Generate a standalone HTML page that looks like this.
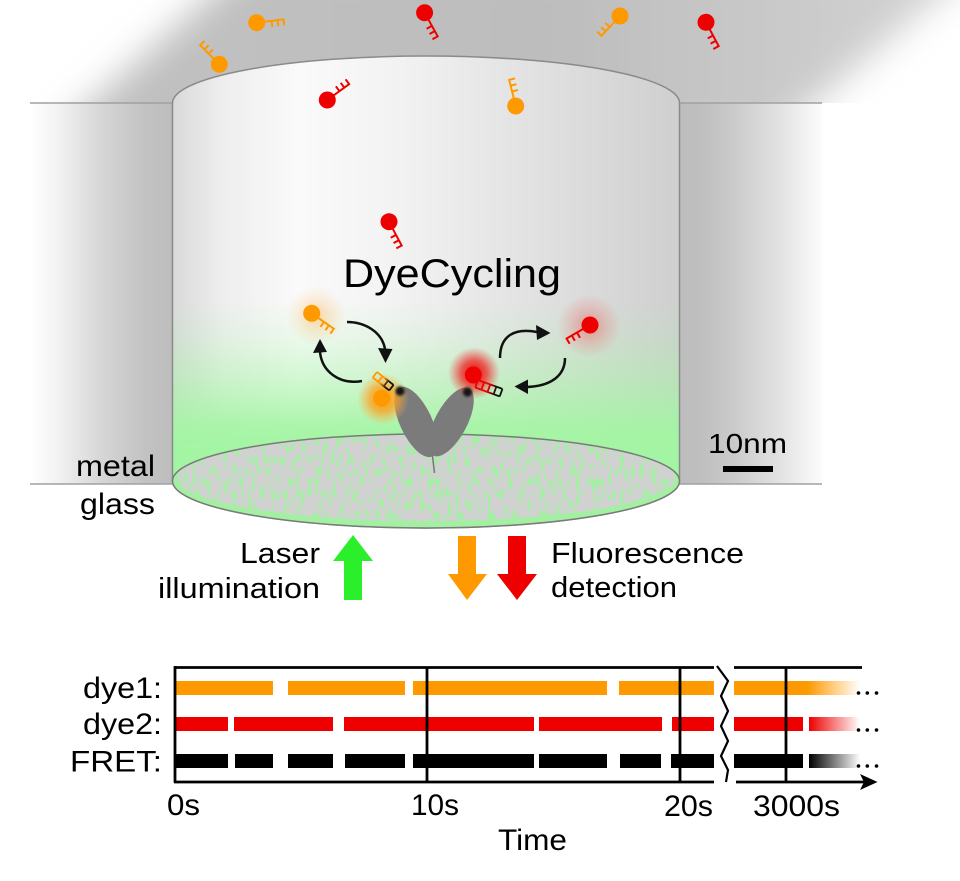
<!DOCTYPE html>
<html><head><meta charset="utf-8"><style>html,body{margin:0;padding:0;background:#fff}svg{display:block}</style></head>
<body>
<svg width="960" height="881" viewBox="0 0 960 881" xmlns="http://www.w3.org/2000/svg" xmlns:xlink="http://www.w3.org/1999/xlink" font-family="'Liberation Sans', Arial, sans-serif">
<defs>
  <filter id="blur25" x="-30%" y="-80%" width="160%" height="260%"><feGaussianBlur stdDeviation="18"/></filter>
  <filter id="blur2" x="-50%" y="-50%" width="200%" height="200%"><feGaussianBlur stdDeviation="1.2"/></filter>
  <clipPath id="topclip"><rect x="0" y="0" width="960" height="103"/></clipPath>
  <linearGradient id="wedgeG" gradientUnits="userSpaceOnUse" x1="200" y1="0" x2="900" y2="0">
    <stop offset="0" stop-color="#c0c0c0"/><stop offset="0.5" stop-color="#bdbdbd"/><stop offset="1" stop-color="#d0d0d0"/>
  </linearGradient>
  <linearGradient id="lblock" gradientUnits="userSpaceOnUse" x1="30" y1="0" x2="172" y2="0">
    <stop offset="0" stop-color="#ffffff"/><stop offset="0.2" stop-color="#f2f2f2"/>
    <stop offset="0.5" stop-color="#d6d6d6"/><stop offset="0.8" stop-color="#c3c3c3"/><stop offset="1" stop-color="#bdbdbd"/>
  </linearGradient>
  <linearGradient id="rblock" gradientUnits="userSpaceOnUse" x1="680" y1="0" x2="822" y2="0">
    <stop offset="0" stop-color="#bdbdbd"/><stop offset="0.15" stop-color="#bfbfbf"/>
    <stop offset="0.4" stop-color="#cccccc"/><stop offset="0.7" stop-color="#e2e2e2"/><stop offset="1" stop-color="#fcfcfc"/>
  </linearGradient>
  <linearGradient id="cylH" gradientUnits="userSpaceOnUse" x1="172" y1="0" x2="680" y2="0">
    <stop offset="0" stop-color="#d9d9d9"/><stop offset="0.1" stop-color="#eeeeee"/>
    <stop offset="0.25" stop-color="#fafafa"/><stop offset="0.45" stop-color="#f2f2f2"/>
    <stop offset="0.7" stop-color="#e2e2e2"/><stop offset="1" stop-color="#cfcfcf"/>
  </linearGradient>
  <linearGradient id="greenV" gradientUnits="userSpaceOnUse" x1="0" y1="300" x2="0" y2="450">
    <stop offset="0" stop-color="#a3f5a3" stop-opacity="0"/><stop offset="0.3" stop-color="#a3f5a3" stop-opacity="0.2"/>
    <stop offset="0.6" stop-color="#a3f5a3" stop-opacity="0.55"/><stop offset="0.85" stop-color="#a3f5a3" stop-opacity="0.92"/>
    <stop offset="1" stop-color="#a3f5a3" stop-opacity="1"/>
  </linearGradient>
  <filter id="speck" x="0" y="0" width="1" height="1" color-interpolation-filters="sRGB">
    <feTurbulence type="fractalNoise" baseFrequency="0.25 0.09" numOctaves="2" seed="5" result="t"/>
    <feColorMatrix in="t" type="matrix" values="0 0 0 0 0.82  0 0 0 0 0.82  0 0 0 0 0.82  0 0 0 10 -3.6" result="m"/>
    <feComposite in="m" in2="SourceGraphic" operator="in"/>
  </filter>
  <radialGradient id="gOfree"><stop offset="0" stop-color="#ffb050" stop-opacity="0.5"/><stop offset="0.6" stop-color="#ffc070" stop-opacity="0.2"/><stop offset="1" stop-color="#ffc070" stop-opacity="0"/></radialGradient>
  <radialGradient id="gRfree"><stop offset="0" stop-color="#f04848" stop-opacity="0.5"/><stop offset="0.6" stop-color="#f06060" stop-opacity="0.2"/><stop offset="1" stop-color="#f06060" stop-opacity="0"/></radialGradient>
  <radialGradient id="gObound"><stop offset="0" stop-color="#ff9a00" stop-opacity="1"/><stop offset="0.5" stop-color="#ffa020" stop-opacity="0.75"/><stop offset="1" stop-color="#ffb040" stop-opacity="0"/></radialGradient>
  <radialGradient id="gRbound"><stop offset="0" stop-color="#ee0000" stop-opacity="1"/><stop offset="0.5" stop-color="#f02020" stop-opacity="0.7"/><stop offset="1" stop-color="#f04040" stop-opacity="0"/></radialGradient>
  <linearGradient id="ladO" gradientUnits="userSpaceOnUse" x1="0" y1="0" x2="21" y2="0">
    <stop offset="0" stop-color="#ff9900"/><stop offset="0.45" stop-color="#ff9900"/><stop offset="0.75" stop-color="#111"/><stop offset="1" stop-color="#111"/>
  </linearGradient>
  <linearGradient id="ladR" gradientUnits="userSpaceOnUse" x1="0" y1="0" x2="26" y2="0">
    <stop offset="0" stop-color="#ee0000"/><stop offset="0.45" stop-color="#ee0000"/><stop offset="0.8" stop-color="#111"/><stop offset="1" stop-color="#111"/>
  </linearGradient>
  <linearGradient id="fadeO" gradientUnits="userSpaceOnUse" x1="734" y1="0" x2="860" y2="0">
    <stop offset="0" stop-color="#ff9900"/><stop offset="0.58" stop-color="#ff9900"/><stop offset="1" stop-color="#ff9900" stop-opacity="0"/>
  </linearGradient>
  <linearGradient id="fadeR" gradientUnits="userSpaceOnUse" x1="809" y1="0" x2="860" y2="0">
    <stop offset="0" stop-color="#ee0000"/><stop offset="1" stop-color="#ee0000" stop-opacity="0"/>
  </linearGradient>
  <linearGradient id="fadeK" gradientUnits="userSpaceOnUse" x1="809" y1="0" x2="860" y2="0">
    <stop offset="0" stop-color="#000"/><stop offset="1" stop-color="#000" stop-opacity="0"/>
  </linearGradient>
  <g id="dO"><circle r="8.5" fill="#ff9900"/><path d="M0,0H28M15,0V6M21,0V6M27,0V6" stroke="#ff9900" stroke-width="2" fill="none"/></g>
  <g id="dR"><circle r="8.5" fill="#ee0000"/><path d="M0,0H28M15,0V6M21,0V6M27,0V6" stroke="#ee0000" stroke-width="2" fill="none"/></g>
</defs>

<rect width="960" height="881" fill="#fff"/>

<!-- top gray wedge -->
<g clip-path="url(#topclip)">
  <polygon points="50,140 250,-40 982,-40 771,140" fill="url(#wedgeG)" filter="url(#blur25)"/>
</g>
<!-- metal blocks -->
<rect x="30" y="103" width="142.5" height="381" fill="url(#lblock)"/>
<rect x="679.5" y="103" width="142.5" height="381" fill="url(#rblock)"/>
<path d="M30,103H172.5M679.5,103H822M30,484H172.5M679.5,484H822" stroke="#a0a0a0" stroke-width="1.5"/>

<!-- cylinder -->
<path d="M172.5,103 A253.5,47 0 0 1 679.5,103 L679.5,481 A253.5,47 0 0 1 172.5,481 Z" fill="url(#cylH)"/>
<path d="M172.5,103 A253.5,47 0 0 1 679.5,103 L679.5,481 A253.5,47 0 0 1 172.5,481 Z" fill="url(#greenV)" stroke="#8a8a8a" stroke-width="1.5"/>
<!-- bottom surface -->
<ellipse cx="426" cy="481" rx="253.5" ry="47" fill="#a3f0a3"/>
<ellipse cx="426" cy="478" rx="249" ry="43" fill="#d3d3d3" filter="url(#speck)"/>
<ellipse cx="426" cy="481" rx="253.5" ry="47" fill="none" stroke="#7a7a7a" stroke-width="1.5"/>

<!-- free dyes -->
<use xlink:href="#dO" transform="translate(256.7,22.7) rotate(-7)"/>
<use xlink:href="#dR" transform="translate(424.6,12.7) rotate(61)"/>
<use xlink:href="#dO" transform="translate(620,16) rotate(133)"/>
<use xlink:href="#dR" transform="translate(706,22.3) rotate(62)"/>
<use xlink:href="#dO" transform="translate(219.3,64.3) rotate(-135)"/>
<use xlink:href="#dR" transform="translate(327.3,100) rotate(-36) scale(1,-1)"/>
<use xlink:href="#dO" transform="translate(515.7,106) rotate(-104)"/>
<use xlink:href="#dR" transform="translate(389,221.7) rotate(62)"/>

<text x="343" y="287" font-size="40" textLength="218" lengthAdjust="spacingAndGlyphs" fill="#000">DyeCycling</text>

<!-- glowing free dyes -->
<circle cx="316" cy="316" r="30" fill="url(#gOfree)"/>
<use xlink:href="#dO" transform="translate(311.7,313.3) rotate(35)"/>
<circle cx="589" cy="326" r="32" fill="url(#gRfree)"/>
<use xlink:href="#dR" transform="translate(590,325) rotate(150) scale(1,-1)"/>

<!-- curved arrows -->
<g stroke="#111" stroke-width="2.5" fill="none">
  <path d="M347,322 C365,322 382,332 385,349"/>
  <path d="M362,381 C340,385 322,372 320,352"/>
  <path d="M500,358 C500,335 515,328 537,332"/>
  <path d="M565,358 C565,375 552,386 527,387"/>
</g>
<g fill="#111">
  <polygon points="378,348 392.5,349 385.5,363"/>
  <polygon points="313,353 327,352 320,339"/>
  <polygon points="536,325 537,340 550.5,333"/>
  <polygon points="528,379.5 528,394 514.5,386.5"/>
</g>

<!-- polymerase -->
<g fill="#7b7b7b">
  <ellipse cx="416" cy="422" rx="16" ry="38" transform="rotate(-25 416 422)"/>
  <ellipse cx="451" cy="422" rx="16" ry="38" transform="rotate(28 451 422)"/>
</g>
<line x1="432" y1="452" x2="434.5" y2="473" stroke="#777" stroke-width="1.5"/>

<!-- bound dyes with glows -->
<circle cx="383" cy="399" r="26" fill="url(#gObound)"/>
<circle cx="381.7" cy="398.3" r="8.5" fill="#ff9900"/>
<g transform="translate(377,372) rotate(38)" stroke="url(#ladO)" stroke-width="1.8" fill="none">
  <path d="M0,0H21M0,7H21M0,0V7M7,0V7M14,0V7M21,0V7"/>
</g>
<circle cx="474" cy="373" r="26" fill="url(#gRbound)"/>
<circle cx="473.3" cy="375" r="8.5" fill="#ee0000"/>
<g transform="translate(478,380) rotate(20)" stroke="url(#ladR)" stroke-width="1.8" fill="none">
  <path d="M0,0H26M0,8H26M0,0V8M6.5,0V8M13,0V8M19.5,0V8M26,0V8"/>
</g>
<circle cx="400" cy="391" r="4.6" fill="#141414" filter="url(#blur2)"/>
<circle cx="467.5" cy="392" r="4.6" fill="#141414" filter="url(#blur2)"/>

<!-- side labels -->
<text x="76" y="476" font-size="30" textLength="79" lengthAdjust="spacingAndGlyphs">metal</text>
<text x="80" y="514" font-size="30" textLength="75" lengthAdjust="spacingAndGlyphs">glass</text>
<text x="708" y="453" font-size="28" textLength="79" lengthAdjust="spacingAndGlyphs">10nm</text>
<rect x="723" y="466" width="50" height="6" fill="#000"/>

<!-- illumination / detection -->
<polygon points="353,535 373,561 362,561 362,600 344,600 344,561 333,561" fill="#2aef2a"/>
<polygon points="458,536 476,536 476,574 487,574 467,600 448,574 458,574" fill="#ff9900"/>
<polygon points="508,536 526,536 526,574 537,574 517,600 497,574 508,574" fill="#ee0000"/>
<text x="240" y="563" font-size="29" textLength="80" lengthAdjust="spacingAndGlyphs">Laser</text>
<text x="158" y="598" font-size="29" textLength="162" lengthAdjust="spacingAndGlyphs">illumination</text>
<text x="551" y="563" font-size="29" textLength="193" lengthAdjust="spacingAndGlyphs">Fluorescence</text>
<text x="551" y="597" font-size="29" textLength="126" lengthAdjust="spacingAndGlyphs">detection</text>

<!-- timeline bars -->
<g fill="#ff9900">
  <rect x="176" y="681" width="97" height="14"/><rect x="288" y="681" width="117" height="14"/>
  <rect x="413" y="681" width="194" height="14"/><rect x="619" y="681" width="95" height="14"/>
</g>
<rect x="734" y="681" width="126" height="14" fill="url(#fadeO)"/>
<g fill="#ee0000">
  <rect x="176" y="717" width="52" height="14"/><rect x="234" y="717" width="99" height="14"/>
  <rect x="344" y="717" width="190" height="14"/><rect x="539" y="717" width="123" height="14"/>
  <rect x="672" y="717" width="42" height="14"/><rect x="734" y="717" width="69" height="14"/>
</g>
<rect x="809" y="717" width="51" height="14" fill="url(#fadeR)"/>
<g fill="#000">
  <rect x="176" y="754" width="52" height="14"/><rect x="235" y="754" width="38" height="14"/>
  <rect x="288" y="754" width="45" height="14"/><rect x="345" y="754" width="60" height="14"/>
  <rect x="413" y="754" width="121" height="14"/><rect x="539" y="754" width="68" height="14"/>
  <rect x="620" y="754" width="41" height="14"/><rect x="671" y="754" width="43" height="14"/>
  <rect x="734" y="754" width="69" height="14"/>
</g>
<rect x="809" y="754" width="51" height="14" fill="url(#fadeK)"/>

<!-- axes -->
<g stroke="#000" stroke-width="2.8" fill="none">
  <path d="M175,666 V782.5"/>
  <path d="M427,667 V782"/>
  <path d="M680,667 V782"/>
  <path d="M786,667 V782"/>
  <path d="M174,667.5 H714 M734,667.5 H862"/>
  <path d="M174,782 H714 M736,782 H866"/>
</g>
<polyline points="717,666 728,681 721,696 728,711 721,726 728,741 721,756 728,770 726,782" stroke="#000" stroke-width="2.2" fill="none"/>
<polygon points="860,774 877.5,782 860,790 864,782" fill="#000"/>

<!-- dots -->
<g fill="#000">
  <circle cx="858.5" cy="693" r="1.8"/><circle cx="867.3" cy="693" r="1.8"/><circle cx="876.5" cy="693" r="1.8"/>
  <circle cx="858.5" cy="730" r="1.8"/><circle cx="867.3" cy="730" r="1.8"/><circle cx="876.5" cy="730" r="1.8"/>
  <circle cx="858.5" cy="766" r="1.8"/><circle cx="867.3" cy="766" r="1.8"/><circle cx="876.5" cy="766" r="1.8"/>
</g>

<!-- timeline labels -->
<text x="83" y="698" font-size="30" textLength="79" lengthAdjust="spacingAndGlyphs">dye1:</text>
<text x="83" y="734" font-size="30" textLength="79" lengthAdjust="spacingAndGlyphs">dye2:</text>
<text x="70" y="771.5" font-size="30" textLength="92" lengthAdjust="spacingAndGlyphs">FRET:</text>
<text x="167" y="815" font-size="30" textLength="33" lengthAdjust="spacingAndGlyphs">0s</text>
<text x="411" y="815" font-size="30" textLength="48" lengthAdjust="spacingAndGlyphs">10s</text>
<text x="664" y="816" font-size="30" textLength="49" lengthAdjust="spacingAndGlyphs">20s</text>
<text x="753" y="816" font-size="30" textLength="87" lengthAdjust="spacingAndGlyphs">3000s</text>
<text x="498" y="850" font-size="30" textLength="69" lengthAdjust="spacingAndGlyphs">Time</text>
</svg>
</body></html>
